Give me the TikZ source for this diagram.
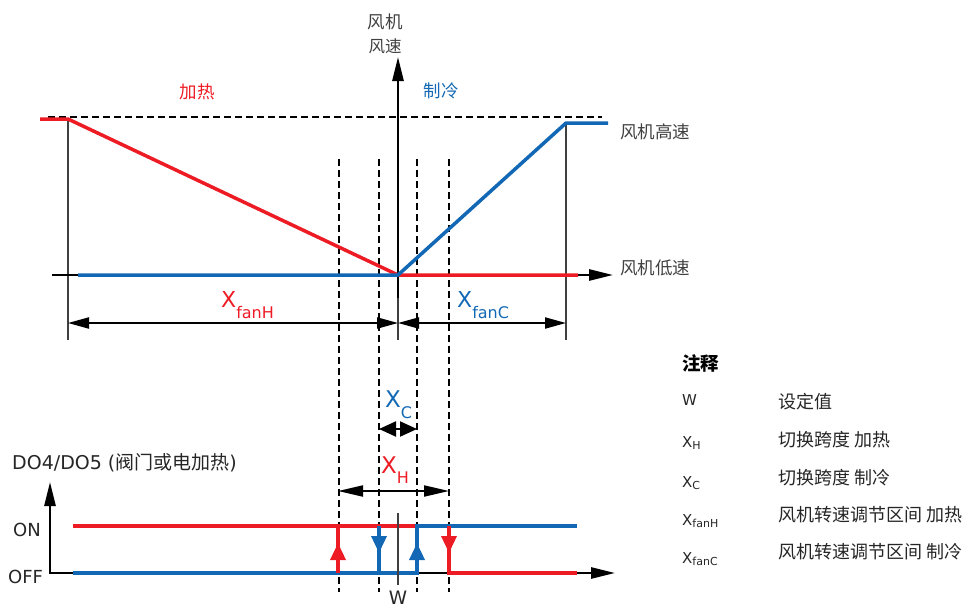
\documentclass[tikz,border=0pt]{standalone}
\usepackage{fontspec}
\setmainfont{DejaVu Sans}
\newfontfamily\cjk{Noto Sans CJK SC}
\usetikzlibrary{arrows.meta}
\definecolor{heatRed}{RGB}{237,28,36}
\definecolor{coolBlue}{RGB}{18,104,180}
\definecolor{labelGray}{RGB}{64,64,64}
\newcommand{\fs}[1]{\fontsize{#1}{#1}\selectfont}

\begin{document}
\begin{tikzpicture}[x=1pt,y=-1pt,
    curve/.style={line width=3.5pt},
    axis/.style={line width=2.6pt,-{Triangle[length=24pt,width=11pt]}},
    guide/.style={line width=1.2pt,black!75},
    helper/.style={line width=1.1pt,dash pattern=on 7pt off 4pt},
    dim/.style={line width=2pt,{Triangle[length=21pt,width=11pt]}-{Triangle[length=21pt,width=11pt]}},
    flip/.style={-{Triangle[length=17pt,width=15pt]}},
    cn/.style={font=\cjk\fs{17.5},text=labelGray,inner sep=0pt},
    lat/.style={inner sep=0pt,text=black!85}]
  \useasboundingbox (0,0) rectangle (971,608);

  % fan speed
  \coordinate (o) at (398,275);
  \coordinate (hL) at (68,119);
  \coordinate (cR) at (566,123);
  \draw[helper] (48,117) -- (602,117);
  \foreach \x in {339,379,417,449}
    \draw[helper] (\x,159) -- (\x,592);
  \draw[guide] (hL) -- (68,340);
  \draw[guide] (cR) -- (566,340);
  \draw[guide] (398,290) -- (398,340);
  \draw[axis] (52,275) -- (613,275) coordinate (xtip);
  \draw[axis] (398,298) -- (398,57) coordinate (ytip);
  \draw[curve,heatRed] (40,119) -- (hL) -- (o) -- (578,275);
  \draw[curve,coolBlue] (78,275) -- (o) -- (cR) -- (608,123);
  \draw[dim] (68,323) -- (398,323);
  \draw[dim] (398,323) -- (566,323);

  \node[cn] (fan1) at (385,22) {风机};
  \node[cn,font=\cjk\fs{16.5}] (fan2) at (385,46) {风速};
  \node[cn,text=heatRed] (heat) at (197,92) {加热};
  \node[cn,text=coolBlue] (cool) at (441,91) {制冷};
  \node[cn,anchor=west] (high) at (620,132) {风机高速};
  \node[cn,anchor=west] (low) at (620,268) {风机低速};
  \node[lat,anchor=base west,text=heatRed] (xfh) at (221,307)
    {\fs{22}X\raisebox{-11pt}{\fs{16}fanH}};
  \node[lat,anchor=base west,text=coolBlue] (xfc) at (457,307)
    {\fs{22}X\raisebox{-11pt}{\fs{16}fanC}};

  % DO4/DO5 switching
  \draw[line width=2.6pt,{Triangle[length=24pt,width=11pt]}-{Triangle[length=24pt,width=11pt]}]
    (50,482) -- (50,573) -- (615,573);
  \draw[curve,heatRed] (73,526) -- (449,526) -- (449,573) -- (577,573);
  \draw[curve,heatRed] (338,526) -- (338,573);
  \draw[curve,coolBlue] (73,573) -- (417,573) -- (417,526) -- (577,526);
  \draw[curve,coolBlue] (379,526) -- (379,573);
  \draw[curve,heatRed,flip] (338,573) -- (338,543);
  \draw[curve,heatRed,flip] (449,526) -- (449,553);
  \draw[curve,coolBlue,flip] (379,526) -- (379,553);
  \draw[curve,coolBlue,flip] (417,573) -- (417,543);
  \draw[line width=2pt,{Triangle[length=17pt,width=15pt]}-{Triangle[length=17pt,width=15pt]}]
    (379,429) -- (417,429);
  \draw[line width=2pt,{Triangle[length=25pt,width=11pt]}-{Triangle[length=25pt,width=11pt]}]
    (338,491) -- (449,491);
  \draw[guide] (398,513) -- (398,585);

  \node[lat,anchor=base west,text=coolBlue] (xc) at (385,407)
    {\fs{23}X\raisebox{-11pt}{\fs{16}C}};
  \node[lat,anchor=base west,text=heatRed] (xh) at (381,473)
    {\fs{23}X\raisebox{-10pt}{\fs{16}H}};
  \node[lat,anchor=base] (w) at (398,604) {\fs{18.5}W};
  \node[lat,anchor=west] (on) at (13,530) {\fs{18}ON};
  \node[lat,anchor=west] (off) at (8,577) {\fs{18}OFF};
  \node[lat,anchor=west] (do) at (12,463) {\fs{19}DO4/DO5 ({\cjk\fs{19}阀门或电加热})};

  % legend
  \node[cn,anchor=west,text=black,font=\cjk\bfseries\fs{18.5}] (note) at (682,363) {注释};
  \node[lat,anchor=base west] (k1) at (682,405) {\fs{15}W};
  \node[lat,anchor=base west] (k2) at (682,447) {\fs{15}X\raisebox{-2pt}{\fs{11}H}};
  \node[lat,anchor=base west] (k3) at (682,487) {\fs{15}X\raisebox{-2pt}{\fs{11}C}};
  \node[lat,anchor=base west] (k4) at (682,525) {\fs{15}X\raisebox{-2pt}{\fs{11}fanH}};
  \node[lat,anchor=base west] (k5) at (682,563) {\fs{15}X\raisebox{-2pt}{\fs{11}fanC}};
  \node[cn,anchor=west,text=black!85,font=\cjk\fs{18}] (v1) at (778,402) {设定值};
  \node[cn,anchor=west,text=black!85,font=\cjk\fs{18}] (v2) at (778,440) {切换跨度 加热};
  \node[cn,anchor=west,text=black!85,font=\cjk\fs{18}] (v3) at (778,478) {切换跨度 制冷};
  \node[cn,anchor=west,text=black!85,font=\cjk\fs{18}] (v4) at (778,515) {风机转速调节区间 加热};
  \node[cn,anchor=west,text=black!85,font=\cjk\fs{18}] (v5) at (778,552) {风机转速调节区间 制冷};
\end{tikzpicture}
\end{document}
